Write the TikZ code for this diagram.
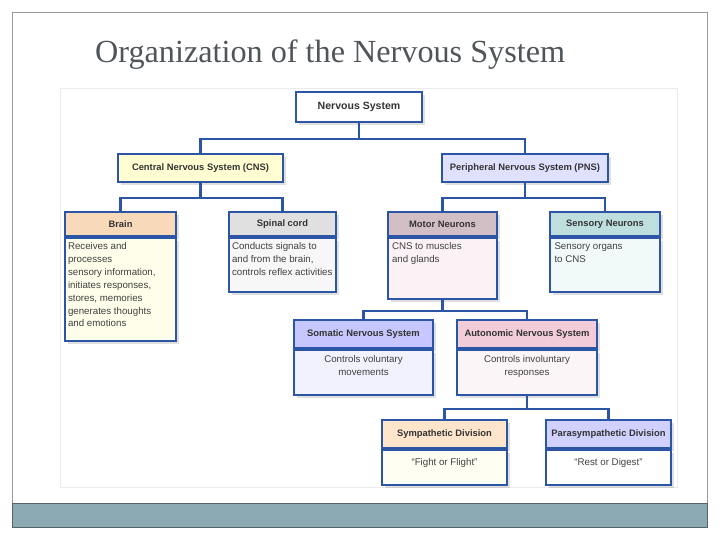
\documentclass[tikz,border=0pt]{standalone}
\usepackage{fontspec}
\setmainfont{Liberation Serif}
\setsansfont{Liberation Sans}
\usetikzlibrary{shadows}
\newlength\px \setlength\px{0.03cm}
\definecolor{linkblue}{RGB}{45,85,165}
\definecolor{titlegray}{RGB}{80,85,90}
\definecolor{barteal}{RGB}{140,170,180}
\begin{document}
\begin{tikzpicture}[x=\px, y=-\px]
        % Define styles
        \tikzset{
            head/.style={rectangle, draw=linkblue, line width=2.2\px, drop shadow={opacity=0.25},
                inner sep=0pt, font=\sffamily\bfseries\fontsize{8}{9}\selectfont, text=black!80},
            body/.style={rectangle, draw=linkblue, line width=2.2\px, drop shadow={opacity=0.25},
                anchor=north, inner sep=0pt, font=\sffamily\fontsize{8.3}{11}\selectfont, text=black!75},
            link/.style={draw=linkblue, line width=2.4\px}
        }
        \useasboundingbox (0,0) rectangle (720,540);

        % Slide
        \draw[black!40] (12,12) rectangle (707,527);
        \fill[barteal] (12,503) rectangle (707,527);
        \draw[barteal!60!black] (12,503) rectangle (707,527);
        \node[anchor=west, text=titlegray, font=\fontsize{27.5}{30}\selectfont] (title) at (91,55) {Organization of the Nervous System};
        \draw[black!8] (60,88) rectangle (677,487);

        % Top levels
        \node[head, fill=white, minimum width=126\px, minimum height=30\px, font=\sffamily\bfseries\fontsize{9}{10}\selectfont] (nervous) at (359,107) {Nervous System};
        \node[head, fill=yellow!18, minimum width=165\px, minimum height=28\px] (cns) at (200.5,168) {Central Nervous System (CNS)};
        \node[head, fill=blue!12, minimum width=166\px, minimum height=28\px] (pns) at (525,168) {Peripheral Nervous System (PNS)};

        % Second row
        \node[head, fill=brown!35!orange!30, minimum width=111\px, minimum height=24\px] (brain) at (120.5,224) {Brain};
        \node[body, fill=yellow!8, minimum width=111\px, minimum height=103\px] (brain_body) at (brain.south)
            {\parbox[t][99\px][t]{105\px}{\raggedright\vspace{2pt}Receives and processes\\ sensory information,\\ initiates responses,\\ stores, memories\\ generates thoughts\\ and emotions}};
        \node[head, fill=black!12, minimum width=107\px, minimum height=24\px] (spinal) at (282.5,224) {Spinal cord};
        \node[body, fill=black!3, minimum width=107\px, minimum height=54\px] (spinal_body) at (spinal.south)
            {\parbox[t][50\px][t]{101\px}{\raggedright\vspace{2pt}Conducts signals to\\ and from the brain,\\ controls reflex activities}};
        \node[head, fill=purple!25!gray!40, minimum width=109\px, minimum height=24\px] (motor) at (442.5,224) {Motor Neurons};
        \node[body, fill=purple!5, minimum width=109\px, minimum height=61\px] (motor_body) at (motor.south)
            {\parbox[t][57\px][t]{101\px}{\raggedright\vspace{2pt}CNS to muscles\\ and glands}};
        \node[head, fill=teal!25, minimum width=110\px, minimum height=24\px] (sensory) at (605,224) {Sensory Neurons};
        \node[body, fill=teal!5, minimum width=110\px, minimum height=54\px] (sensory_body) at (sensory.south)
            {\parbox[t][50\px][t]{101\px}{\raggedright\vspace{2pt}Sensory organs\\ to CNS}};

        % Third row
        \node[head, fill=blue!22, minimum width=139\px, minimum height=28\px] (somatic) at (363.5,334) {Somatic Nervous System};
        \node[body, fill=blue!5, minimum width=139\px, minimum height=45\px] (somatic_body) at (somatic.south)
            {\parbox[t][41\px][t]{130\px}{\centering\vspace{3pt}Controls voluntary\\ movements}};
        \node[head, fill=purple!20, minimum width=140\px, minimum height=28\px] (autonomic) at (527,334) {Autonomic Nervous System};
        \node[body, fill=purple!4, minimum width=140\px, minimum height=45\px] (autonomic_body) at (autonomic.south)
            {\parbox[t][41\px][t]{130\px}{\centering\vspace{3pt}Controls involuntary\\ responses}};

        % Fourth row
        \node[head, fill=orange!20, minimum width=125\px, minimum height=28\px] (symp) at (444.5,434) {Sympathetic Division};
        \node[body, fill=yellow!5, minimum width=125\px, minimum height=35\px] (symp_body) at (symp.south)
            {\parbox[t][31\px][t]{115\px}{\centering\vspace{5pt}``Fight or Flight''}};
        \node[head, fill=blue!18, minimum width=125\px, minimum height=28\px] (para) at (608.5,434) {Parasympathetic Division};
        \node[body, fill=white, minimum width=125\px, minimum height=35\px] (para_body) at (para.south)
            {\parbox[t][31\px][t]{115\px}{\centering\vspace{5pt}``Rest or Digest''}};

        % Connectors
        \draw[link] (nervous.south) -- ++(0,16) -| (cns.north);
        \draw[link] (nervous.south) -- ++(0,16) -| (pns.north);
        \draw[link] (cns.south) -- ++(0,15) -| (brain.north);
        \draw[link] (cns.south) -- ++(0,15) -| (spinal.north);
        \draw[link] (pns.south) -- ++(0,15) -| (motor.north);
        \draw[link] (pns.south) -- ++(0,15) -| (sensory.north);
        \draw[link] (motor_body.south) -- ++(0,11) -| (somatic.north);
        \draw[link] (motor_body.south) -- ++(0,11) -| (autonomic.north);
        \draw[link] (autonomic_body.south) -- ++(0,13) -| (symp.north);
        \draw[link] (autonomic_body.south) -- ++(0,13) -| (para.north);
    \end{tikzpicture}
\end{document}
